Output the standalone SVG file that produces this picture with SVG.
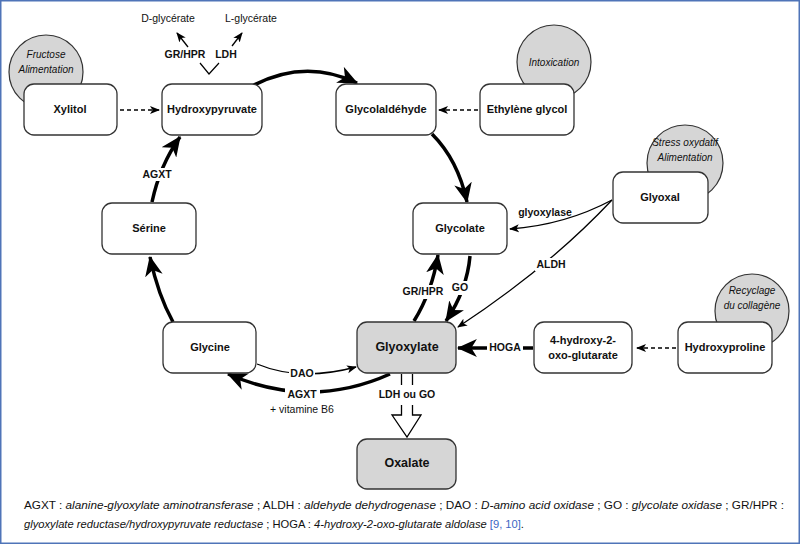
<svg xmlns="http://www.w3.org/2000/svg" width="800" height="544" viewBox="0 0 800 544">
<defs>
<style>
.box{fill:#fff;stroke:#333;stroke-width:1.3}
.gbox{fill:#d6d6d6;stroke:#333;stroke-width:1.3}
.circ{fill:#d6d6d6;stroke:#333;stroke-width:1.2}
.lbl{font-family:"Liberation Sans",Arial,sans-serif;font-weight:bold;font-size:11px;text-anchor:middle;dominant-baseline:middle;fill:#111}
.glbl{font-family:"Liberation Sans",Arial,sans-serif;font-weight:bold;font-size:12.5px;text-anchor:middle;dominant-baseline:middle;fill:#111}
.it{font-family:"Liberation Sans",Arial,sans-serif;font-style:italic;font-size:10px;text-anchor:middle;dominant-baseline:middle;fill:#111}
.el{font-family:"Liberation Sans",Arial,sans-serif;font-weight:bold;font-size:10.5px;text-anchor:middle;dominant-baseline:middle;fill:#111}
.sm{font-family:"Liberation Sans",Arial,sans-serif;font-size:10.5px;text-anchor:middle;dominant-baseline:middle;fill:#111}
.thick{fill:none;stroke:#000;stroke-width:3.5;marker-end:url(#big)}
.thin{fill:none;stroke:#000;stroke-width:1.3;marker-end:url(#small)}
.dash{fill:none;stroke:#000;stroke-width:1.5;stroke-dasharray:4 3;marker-end:url(#small)}
.foot{font-family:"Liberation Sans",Arial,sans-serif;font-size:11px;fill:#111}
</style>
<marker id="big" markerUnits="userSpaceOnUse" markerWidth="20" markerHeight="18" refX="17" refY="8" orient="auto" viewBox="0 0 18 16">
<path d="M0,0 L18,8 L0,16 L5,8 z" fill="#000"/>
</marker>
<marker id="small" markerUnits="userSpaceOnUse" markerWidth="10" markerHeight="10" refX="9" refY="4" orient="auto" viewBox="0 0 10 8">
<path d="M0,0 L10,4 L0,8 L2.5,4 z" fill="#000"/>
</marker>
</defs>
<rect x="0" y="0" width="800" height="544" fill="#fff"/>
<rect x="0.75" y="0.75" width="798.5" height="542.5" fill="none" stroke="#4f74b8" stroke-width="1.5"/>

<g id="connectors">
<path class="dash" d="M120,110 L159,110"/>
<path class="dash" d="M478,110 L439,110"/>
<path class="dash" d="M676,348 L637,348"/>
<path class="thick" d="M252,86 Q305,58 357,83"/>
<path class="thick" d="M432,134 Q458,160 467,202"/>
<path class="thick" d="M470,256 Q467,290 446,321"/>
<path class="thick" d="M414,321 Q432,292 438,255"/>
<path class="thin" d="M612,200 Q565,225 510,229"/>
<path class="thin" d="M612,200 Q548,268 458,327"/>
<path class="thick" d="M533,348 L458,348"/>
<path class="thick" d="M390,374 Q310,410 228,374"/>
<path class="thin" d="M257,364 Q300,382 356,367"/>
<path class="thick" d="M173,322 Q158,295 150,257"/>
<path class="thick" d="M152,202 Q160,165 180,137"/>
<polyline points="200,63 209,74 219,63" fill="none" stroke="#000" stroke-width="1.2"/>
<path class="thin" d="M188,47 L177,33"/>
<path class="thin" d="M232,46 L242,33"/>
<line x1="401.5" y1="374" x2="401.5" y2="385" stroke="#000" stroke-width="1.3"/>
<line x1="412.5" y1="374" x2="412.5" y2="385" stroke="#000" stroke-width="1.3"/>
<polyline points="401.5,405 401.5,415 392,415 407,437 421,415 412.5,415 412.5,405" fill="#fff" stroke="#000" stroke-width="1.3"/>
<text class="el" x="185" y="55">GR/HPR</text>
<text class="el" x="226" y="55">LDH</text>
<text class="sm" x="168" y="19">D-glycérate</text>
<text class="sm" x="251" y="19">L-glycérate</text>
<rect x="142" y="168" width="30" height="13" fill="#fff"/>
<text class="el" x="157" y="175">AGXT</text>
<rect x="402" y="285" width="43" height="14" fill="#fff"/>
<text class="el" x="423" y="292">GR/HPR</text>
<rect x="451" y="281" width="18" height="14" fill="#fff"/>
<text class="el" x="460" y="288">GO</text>
<text class="el" x="545" y="213">glyoxylase</text>
<rect x="535" y="258" width="32" height="13" fill="#fff"/>
<text class="el" x="551" y="265">ALDH</text>
<rect x="487" y="341" width="36" height="14" fill="#fff"/>
<text class="el" x="505" y="348">HOGA</text>
<rect x="289" y="368" width="26" height="12" fill="#fff"/>
<text class="el" x="302" y="374">DAO</text>
<rect x="285" y="388" width="35" height="14" fill="#fff"/>
<text class="el" x="302" y="395">AGXT</text>
<text class="sm" x="302" y="410">+ vitamine B6</text>
<text class="el" x="407" y="395">LDH ou GO</text>
</g>

<g id="fructose"><circle class="circ" cx="46" cy="72" r="37"/><text class="it" x="46" y="55">Fructose</text><text class="it" x="46" y="70">Alimentation</text></g>
<g id="intoxication"><circle class="circ" cx="554" cy="62" r="37"/><text class="it" x="554" y="63">Intoxication</text></g>
<g id="stress"><circle class="circ" cx="685" cy="163" r="38"/><text class="it" x="685" y="143">Stress oxydatif</text><text class="it" x="685" y="158">Alimentation</text></g>
<g id="recyclage"><circle class="circ" cx="752" cy="311" r="37"/><text class="it" x="752" y="291">Recyclage</text><text class="it" x="752" y="306">du collagène</text></g>

<g id="xylitol"><rect class="box" x="24" y="84" width="93" height="51" rx="10"/><text class="lbl" x="70" y="110">Xylitol</text></g>
<g id="hydroxypyruvate"><rect class="box" x="162" y="84" width="100" height="51" rx="10"/><text class="lbl" x="212" y="110">Hydroxypyruvate</text></g>
<g id="glycolaldehyde"><rect class="box" x="336" y="84" width="100" height="51" rx="10"/><text class="lbl" x="386" y="110">Glycolaldéhyde</text></g>
<g id="ethylene"><rect class="box" x="480" y="84" width="94" height="51" rx="10"/><text class="lbl" x="527" y="110">Ethylène glycol</text></g>
<g id="glyoxal"><rect class="box" x="613" y="172" width="95" height="51" rx="10"/><text class="lbl" x="660" y="198">Glyoxal</text></g>
<g id="serine"><rect class="box" x="102" y="203" width="94" height="51" rx="10"/><text class="lbl" x="149" y="229">Sérine</text></g>
<g id="glycolate"><rect class="box" x="413" y="203" width="94" height="51" rx="10"/><text class="lbl" x="460" y="229">Glycolate</text></g>
<g id="glycine"><rect class="box" x="163" y="322" width="93" height="51" rx="10"/><text class="lbl" x="210" y="348">Glycine</text></g>
<g id="glyoxylate"><rect class="gbox" x="357" y="322" width="99" height="51" rx="10"/><text class="glbl" x="407" y="348">Glyoxylate</text></g>
<g id="hoga-substrate"><rect class="box" x="534" y="322" width="98" height="51" rx="10"/><text class="lbl" x="583" y="341">4-hydroxy-2-</text><text class="lbl" x="583" y="356">oxo-glutarate</text></g>
<g id="hydroxyproline"><rect class="box" x="678" y="322" width="94" height="51" rx="10"/><text class="lbl" x="725" y="348">Hydroxyproline</text></g>
<g id="oxalate"><rect class="gbox" x="357" y="439" width="99" height="50" rx="10"/><text class="glbl" x="407" y="464">Oxalate</text></g>

<g id="footer">
<text class="foot" x="24" y="509" textLength="760" lengthAdjust="spacingAndGlyphs">AGXT : <tspan font-style="italic">alanine-glyoxylate aminotransferase</tspan> ; ALDH : <tspan font-style="italic">aldehyde dehydrogenase</tspan> ; DAO : <tspan font-style="italic">D-amino acid oxidase</tspan> ; GO : <tspan font-style="italic">glycolate oxidase</tspan> ; GR/HPR :</text>
<text class="foot" x="24" y="528" textLength="500" lengthAdjust="spacingAndGlyphs"><tspan font-style="italic">glyoxylate reductase/hydroxypyruvate reductase</tspan> ; HOGA : <tspan font-style="italic">4-hydroxy-2-oxo-glutarate aldolase</tspan> <tspan fill="#3a66c4">[9, 10]</tspan>.</text>
</g>
</svg>
